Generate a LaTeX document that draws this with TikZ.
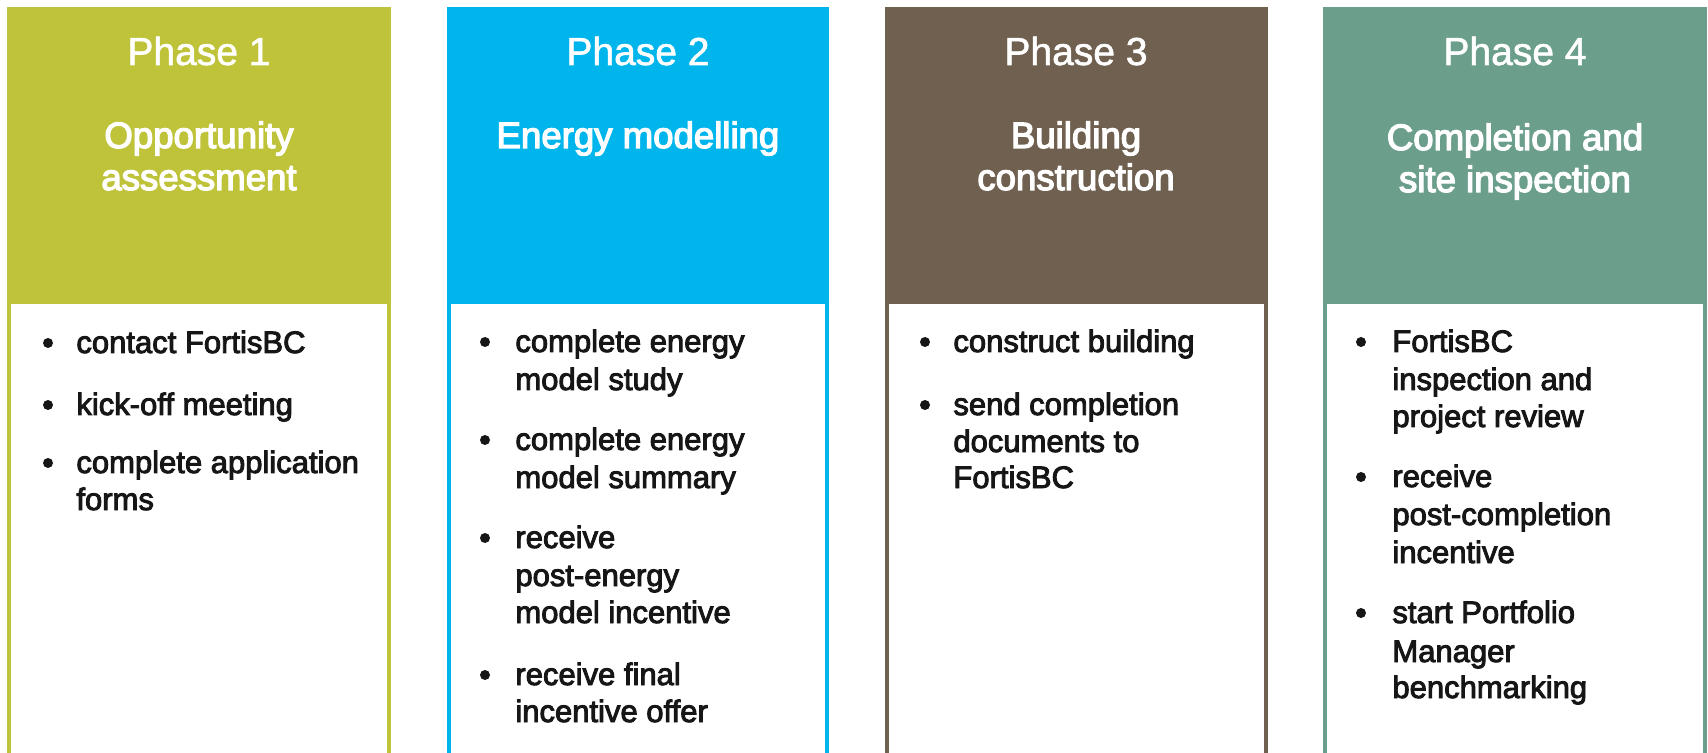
\documentclass[tikz,border=0pt]{standalone}
\usepackage{fontspec}
\setmainfont{Liberation Sans}
\newfontfamily\ttlf{Liberation Sans}[FakeBold=1.5]
\newfontfamily\bodyf{Liberation Sans}[FakeBold=3]
\newfontfamily\subf{Liberation Sans}[FakeBold=3.5]
\definecolor{cA}{RGB}{191,195,58}
\definecolor{cB}{RGB}{0,181,236}
\definecolor{cC}{RGB}{111,96,80}
\definecolor{cD}{RGB}{108,159,139}
\definecolor{txt}{RGB}{22,22,22}
\tikzset{
  ttl/.style={anchor=base, inner sep=0pt, text=white, font=\ttlf\fontsize{19.5}{22}\selectfont},
  sub/.style={anchor=base, inner sep=0pt, text=white, font=\subf\fontsize{18.3}{21}\selectfont},
  itm/.style={anchor=base west, inner sep=0pt, text=txt, font=\bodyf\fontsize{15.5}{18.75}\selectfont},
  dot/.style={circle, fill=txt, inner sep=0pt, minimum size=5pt},
}
\newcommand\phasecolumn[3]{%
  \fill[#3] (#1,7) rectangle (#2,753);
  \fill[white] ($(#1,304)+(4,0)$) rectangle ($(#2,753)+(-4,0)$);
}
\usetikzlibrary{calc}
\begin{document}
\begin{tikzpicture}[x=0.5pt,y=-0.5pt]
\useasboundingbox[fill=white] (0,0) rectangle (1708,753);
% columns
\phasecolumn{7}{391}{cA}
\phasecolumn{447}{829}{cB}
\phasecolumn{885}{1268}{cC}
\phasecolumn{1323}{1707}{cD}
% headers
\node[ttl] (t1) at (199,65) {Phase 1};
\node[sub] (s1a) at (199,148) {Opportunity};
\node[sub] (s1b) at (199,190) {assessment};
\node[ttl] (t2) at (638,65) {Phase 2};
\node[sub] (s2a) at (638,148) {Energy modelling};
\node[ttl] (t3) at (1076,65) {Phase 3};
\node[sub] (s3a) at (1076,148) {Building};
\node[sub] (s3b) at (1076,190) {construction};
\node[ttl] (t4) at (1515,65) {Phase 4};
\node[sub] (s4a) at (1515,150) {Completion and};
\node[sub] (s4b) at (1515,192) {site inspection};
% column 1
\node[dot] (d11) at (48,343) {};
\node[itm] (i11) at (76,353) {contact FortisBC};
\node[dot] (d12) at (48,405) {};
\node[itm] (i12) at (76,415) {kick-off meeting};
\node[dot] (d13) at (48,463) {};
\node[itm] (i13a) at (76,473) {complete application};
\node[itm] (i13b) at (76,510) {forms};
% column 2
\node[dot] (d21) at (485,342) {};
\node[itm] (i21a) at (515,352) {complete energy};
\node[itm] (i21b) at (515,390) {model study};
\node[dot] (d22) at (485,440) {};
\node[itm] (i22a) at (515,450) {complete energy};
\node[itm] (i22b) at (515,488) {model summary};
\node[dot] (d23) at (485,538) {};
\node[itm] (i23a) at (515,548) {receive};
\node[itm] (i23b) at (515,586) {post-energy};
\node[itm] (i23c) at (515,623) {model incentive};
\node[dot] (d24) at (485,675) {};
\node[itm] (i24a) at (515,685) {receive final};
\node[itm] (i24b) at (515,722) {incentive offer};
% column 3
\node[dot] (d31) at (925,342) {};
\node[itm] (i31) at (953,352) {construct building};
\node[dot] (d32) at (925,405) {};
\node[itm] (i32a) at (953,415) {send completion};
\node[itm] (i32b) at (953,452) {documents to};
\node[itm] (i32c) at (953,488) {FortisBC};
% column 4
\node[dot] (d41) at (1361,342) {};
\node[itm] (i41a) at (1392,352) {FortisBC};
\node[itm] (i41b) at (1392,390) {inspection and};
\node[itm] (i41c) at (1392,427) {project review};
\node[dot] (d42) at (1361,477) {};
\node[itm] (i42a) at (1392,487) {receive};
\node[itm] (i42b) at (1392,525) {post-completion};
\node[itm] (i42c) at (1392,563) {incentive};
\node[dot] (d43) at (1361,613) {};
\node[itm] (i43a) at (1392,623) {start Portfolio};
\node[itm] (i43b) at (1392,662) {Manager};
\node[itm] (i43c) at (1392,698) {benchmarking};
\end{tikzpicture}
\end{document}
